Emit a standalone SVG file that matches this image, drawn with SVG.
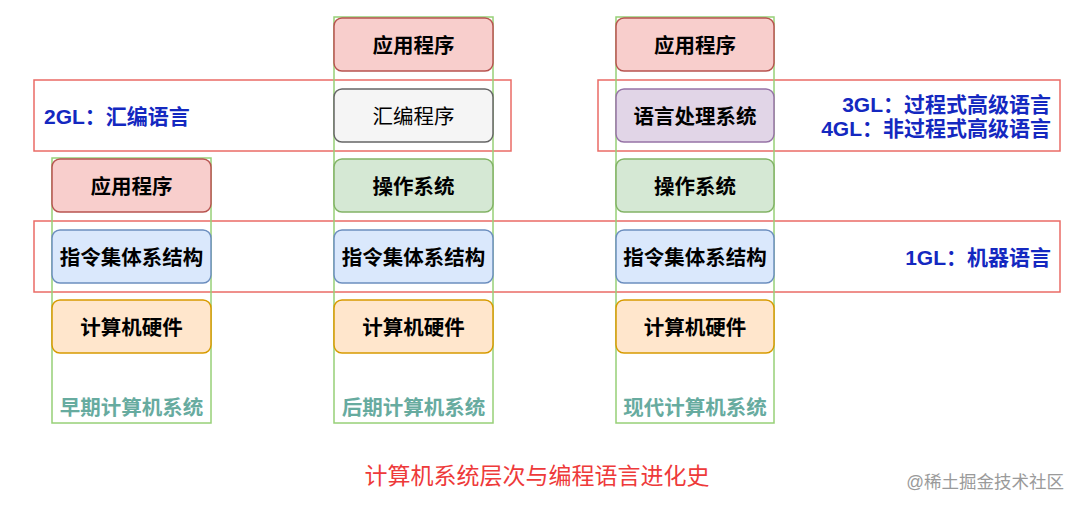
<svg xmlns="http://www.w3.org/2000/svg" width="1080" height="508" viewBox="0 0 1080 508">
<style>
.col{fill:none;stroke:#97d077;stroke-width:1.5}
.band{fill:none;stroke:#ea6b66;stroke-width:1.5}
.n{stroke-width:1.5}
.red{fill:#f8cecc;stroke:#b85450}
.gray{fill:#f5f5f5;stroke:#666666}
.green{fill:#d5e8d4;stroke:#82b366}
.blue{fill:#dae8fc;stroke:#6c8ebf}
.orange{fill:#ffe6cc;stroke:#d79b00}
.purple{fill:#e1d5e7;stroke:#9673a6}
.t{font-family:"Liberation Sans","Noto Sans CJK SC",sans-serif;font-weight:bold;font-size:20.5px;fill:#000;text-anchor:middle;dominant-baseline:central}
.lbl{font-family:"Liberation Sans","Noto Sans CJK SC",sans-serif;font-weight:bold;font-size:20.5px;fill:#67ab9f;text-anchor:middle;dominant-baseline:central}
.gl{font-family:"Liberation Sans","Noto Sans CJK SC",sans-serif;font-weight:bold;font-size:21px;fill:#1428c0;dominant-baseline:central}
</style>
<rect width="1080" height="508" fill="#ffffff"/>
<g id="bands">
<rect class="band" x="34" y="80" width="477" height="71"/>
<rect class="band" x="598" y="80" width="462" height="71"/>
<rect class="band" x="34" y="221" width="1026" height="71"/>
</g>
<g id="columns">
<rect class="col" x="52" y="158" width="159" height="265"/>
<rect class="col" x="334" y="17" width="159" height="406"/>
<rect class="col" x="616" y="17" width="158" height="406"/>
</g>
<g id="connectors"></g>
<g id="c1-app"><rect class="n red" x="52" y="159" width="159" height="53" rx="8"/><text class="t" x="131.5" y="186">应用程序</text></g>
<g id="c1-isa"><rect class="n blue" x="52" y="230" width="159" height="53" rx="8"/><text class="t" x="131.5" y="257">指令集体系结构</text></g>
<g id="c1-hw"><rect class="n orange" x="52" y="300" width="159" height="53" rx="8"/><text class="t" x="131.5" y="327">计算机硬件</text></g>
<g id="c2-app"><rect class="n red" x="334" y="18" width="159" height="53" rx="8"/><text class="t" x="413.5" y="45">应用程序</text></g>
<g id="c2-asm"><rect class="n gray" x="334" y="89" width="159" height="53" rx="8"/><text class="t" x="413.5" y="116" style="font-weight:normal">汇编程序</text></g>
<g id="c2-os"><rect class="n green" x="334" y="159" width="159" height="53" rx="8"/><text class="t" x="413.5" y="186">操作系统</text></g>
<g id="c2-isa"><rect class="n blue" x="334" y="230" width="159" height="53" rx="8"/><text class="t" x="413.5" y="257">指令集体系结构</text></g>
<g id="c2-hw"><rect class="n orange" x="334" y="300" width="159" height="53" rx="8"/><text class="t" x="413.5" y="327">计算机硬件</text></g>
<g id="c3-app"><rect class="n red" x="616" y="18" width="158" height="53" rx="8"/><text class="t" x="695" y="45">应用程序</text></g>
<g id="c3-lang"><rect class="n purple" x="616" y="89" width="158" height="53" rx="8"/><text class="t" x="695" y="116">语言处理系统</text></g>
<g id="c3-os"><rect class="n green" x="616" y="159" width="158" height="53" rx="8"/><text class="t" x="695" y="186">操作系统</text></g>
<g id="c3-isa"><rect class="n blue" x="616" y="230" width="158" height="53" rx="8"/><text class="t" x="695" y="257">指令集体系结构</text></g>
<g id="c3-hw"><rect class="n orange" x="616" y="300" width="158" height="53" rx="8"/><text class="t" x="695" y="327">计算机硬件</text></g>
<g id="labels">
<text class="lbl" x="131.5" y="407">早期计算机系统</text>
<text class="lbl" x="413.5" y="407">后期计算机系统</text>
<text class="lbl" x="695" y="407">现代计算机系统</text>
<text class="gl" x="44" y="116">2GL：汇编语言</text>
<text class="gl" x="1051" y="104" text-anchor="end">3GL：过程式高级语言</text>
<text class="gl" x="1051" y="128" text-anchor="end">4GL：非过程式高级语言</text>
<text class="gl" x="1051" y="257" text-anchor="end">1GL：机器语言</text>
<text x="537" y="476" text-anchor="middle" dominant-baseline="central" style="font-family:'Liberation Sans','Noto Sans CJK SC',sans-serif;font-size:23px;fill:#ee3a3a">计算机系统层次与编程语言进化史</text>
<text x="1064" y="482" text-anchor="end" dominant-baseline="central" style="font-family:'Liberation Sans','Noto Sans CJK SC',sans-serif;font-size:17.5px;fill:#9a9a9a">@稀土掘金技术社区</text>
</g>
</svg>
